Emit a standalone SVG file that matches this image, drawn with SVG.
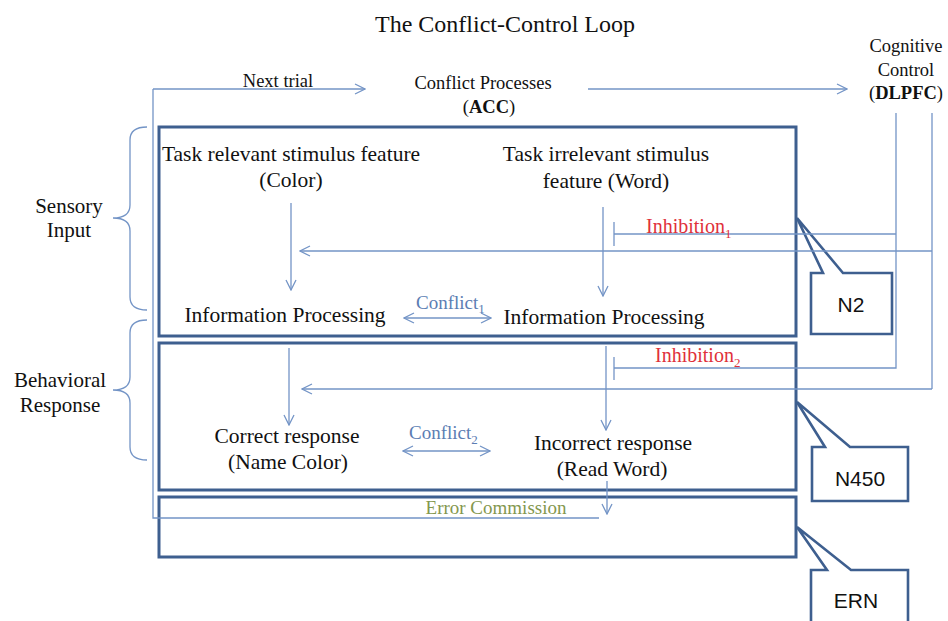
<svg xmlns="http://www.w3.org/2000/svg" width="948" height="621" viewBox="0 0 948 621">
  <style>
    text { font-family: "Liberation Serif", "Times New Roman", serif; fill: #111; }
    .title { font-size: 24px; }
    .lbl { font-size: 18.5px; }
    .body { font-size: 21.5px; }
    .side { font-size: 21px; }
    .conf { font-size: 19px; fill: #5b7db3; }
    .inh { font-size: 20px; fill: #e0303a; }
    .err { font-size: 19px; fill: #84974e; }
    .tag { font-family: "Liberation Sans", Arial, sans-serif; font-size: 21px; fill: #111; }
    .box { fill: none; stroke: #3e5f8f; stroke-width: 3; }
    .callout { fill: #fff; stroke: #3e5f8f; stroke-width: 2.6; stroke-linejoin: miter; }
    .wire { fill: none; stroke: #7394c6; stroke-width: 1.3; }
    .arrow { marker-end: url(#open); }
    .both { marker-start: url(#open); marker-end: url(#open); }
  </style>
  <defs>
    <marker id="open" viewBox="0 0 12 12" refX="11" refY="6" markerWidth="12" markerHeight="12" markerUnits="userSpaceOnUse" orient="auto-start-reverse">
      <path d="M1,1 L11,6 L1,11" fill="none" stroke="#7394c6" stroke-width="1.3"/>
    </marker>
  </defs>

  <rect width="948" height="621" fill="#fff"/>

  <text class="title" x="505" y="32" text-anchor="middle">The Conflict-Control Loop</text>

  <!-- top labels -->
  <g id="next-trial-label">
    <text class="lbl" x="278" y="87" text-anchor="middle">Next trial</text>
  </g>
  <g id="acc">
    <text class="lbl" x="483" y="89" text-anchor="middle">Conflict Processes</text>
    <text class="lbl" x="489" y="113" text-anchor="middle">(<tspan font-weight="bold">ACC</tspan>)</text>
  </g>
  <g id="dlpfc">
    <text class="lbl" x="906" y="52" text-anchor="middle">Cognitive</text>
    <text class="lbl" x="906" y="76" text-anchor="middle">Control</text>
    <text class="lbl" x="906" y="99" text-anchor="middle">(<tspan font-weight="bold">DLPFC</tspan>)</text>
  </g>

  <!-- side braces -->
  <g id="sensory-input">
    <path class="wire" d="M147,127 Q130,127 130,140 L130,205 Q130,218 113,218 Q130,218 130,231 L130,297 Q130,310 147,310"/>
    <text class="side" x="69" y="213" text-anchor="middle">Sensory</text>
    <text class="side" x="69" y="237" text-anchor="middle">Input</text>
  </g>
  <g id="behavioral-response">
    <path class="wire" d="M147,320 Q130,320 130,333 L130,377 Q130,390 113,390 Q130,390 130,403 L130,447 Q130,460 147,460"/>
    <text class="side" x="60" y="387" text-anchor="middle">Behavioral</text>
    <text class="side" x="60" y="412" text-anchor="middle">Response</text>
  </g>

  <!-- stage boxes -->
  <g id="stage-sensory">
    <rect class="box" x="159" y="127" width="637" height="209"/>
    <text class="body" x="291" y="161" text-anchor="middle">Task relevant stimulus feature</text>
    <text class="body" x="291" y="187" text-anchor="middle">(Color)</text>
    <text class="body" x="606" y="161" text-anchor="middle">Task irrelevant stimulus</text>
    <text class="body" x="606" y="188" text-anchor="middle">feature (Word)</text>
    <text class="body" x="285" y="322" text-anchor="middle">Information Processing</text>
    <text class="body" x="604" y="324" text-anchor="middle">Information Processing</text>
    <text class="conf" x="416" y="309">Conflict<tspan font-size="13" dy="4">1</tspan></text>
  </g>
  <g id="stage-response">
    <rect class="box" x="159" y="343" width="637" height="147"/>
    <text class="body" x="287" y="443" text-anchor="middle">Correct response</text>
    <text class="body" x="288" y="469" text-anchor="middle">(Name Color)</text>
    <text class="body" x="613" y="450" text-anchor="middle">Incorrect response</text>
    <text class="body" x="612" y="476" text-anchor="middle">(Read Word)</text>
    <text class="conf" x="409" y="439">Conflict<tspan font-size="13" dy="5">2</tspan></text>
  </g>
  <g id="stage-error">
    <rect class="box" x="159" y="497" width="637" height="60"/>
    <text class="err" x="496" y="514" text-anchor="middle">Error Commission</text>
  </g>

  <!-- ERP callouts -->
  <g id="n2">
    <path class="callout" d="M811,273 L823,273 L797,218 L843,273 L892,273 L892,334 L811,334 Z"/>
    <text class="tag" x="851" y="312" text-anchor="middle">N2</text>
  </g>
  <g id="n450">
    <path class="callout" d="M812,447 L825,447 L797,402 L850,447 L908,447 L908,501 L812,501 Z"/>
    <text class="tag" x="860" y="486" text-anchor="middle">N450</text>
  </g>
  <g id="ern">
    <path class="callout" d="M811,570 L827,570 L797,527 L851,570 L908,570 L908,630 L811,630 Z"/>
    <text class="tag" x="856" y="608" text-anchor="middle">ERN</text>
  </g>

  <!-- connectors -->
  <g id="connectors">
    <!-- next-trial loop -->
    <path class="wire" d="M599,518 L153,518 L153,89"/>
    <path class="wire arrow" d="M153,89 L365,89"/>
    <!-- ACC to DLPFC -->
    <path class="wire arrow" d="M588,89 L847,89"/>
    <!-- processing streams -->
    <path class="wire arrow" d="M291,203 L291,290"/>
    <path class="wire arrow" d="M603,207 L603,296"/>
    <path class="wire both" d="M404,318 L491,318"/>
    <path class="wire arrow" d="M289,348 L289,425"/>
    <path class="wire arrow" d="M606,346 L606,430"/>
    <path class="wire both" d="M403,451 L490,451"/>
    <path class="wire arrow" d="M607,481 L607,514"/>
    <!-- DLPFC control lines -->
    <path class="wire" d="M896,113 L896,368 L614,368"/>
    <path class="wire" d="M614,357 L614,380"/>
    <path class="wire" d="M896,234 L614,234"/>
    <path class="wire" d="M614,222 L614,246"/>
    <path class="wire" d="M932,113 L932,389"/>
    <path class="wire arrow" d="M932,251 L300,251"/>
    <path class="wire arrow" d="M932,389 L302,389"/>
  </g>

  <text class="inh" x="646" y="233">Inhibition<tspan font-size="13" dy="5">1</tspan></text>
  <text class="inh" x="655" y="362">Inhibition<tspan font-size="13" dy="5">2</tspan></text>
</svg>
